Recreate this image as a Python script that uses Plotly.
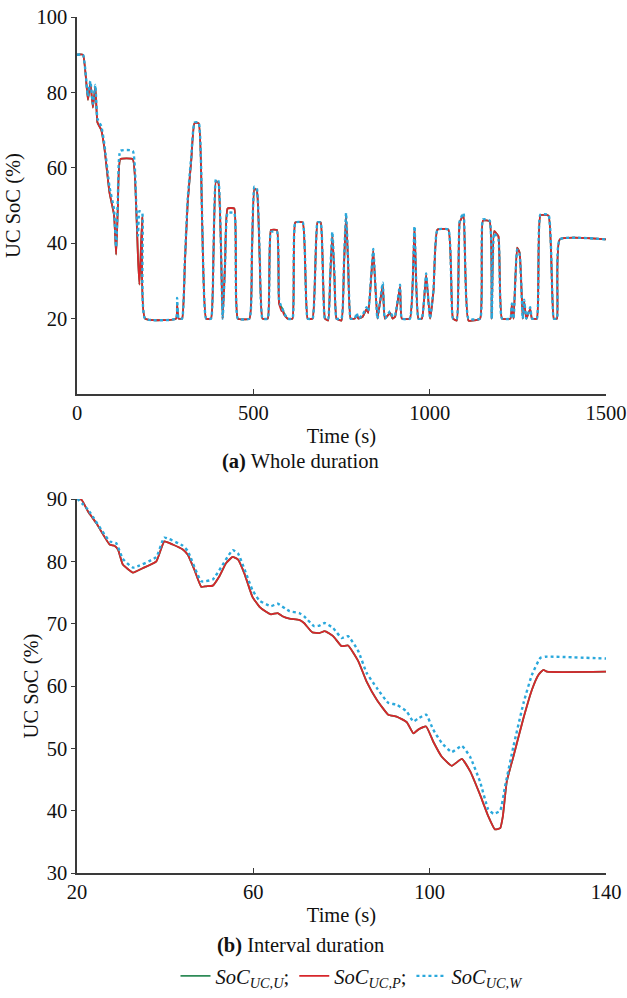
import plotly.graph_objects as go

# ---------- (a) whole duration ----------
t_whole = [0, 17, 31, 38, 45, 52, 58, 69, 78, 92, 105, 111, 116, 123, 158, 168, 173, 177, 185, 193,
           281, 284, 288, 298, 306, 314, 324, 333, 345, 355, 366, 380, 387, 394, 401, 413, 420, 427, 446, 456,
           489, 496, 503, 510, 518, 526, 541, 550, 567, 573, 580, 583, 587, 597, 611, 619, 640, 654, 668,
           682, 691, 703, 712, 718, 724, 730, 736, 750, 757, 763, 769, 776, 788, 793, 798, 810, 821, 826, 840,
           852, 867, 873, 888, 895, 902, 916, 921, 944, 957, 968, 978, 990, 1001, 1011, 1022,
           1053, 1066, 1077, 1085, 1096, 1110, 1143, 1151, 1170, 1176, 1183, 1195, 1205, 1229,
           1233, 1238, 1248, 1255, 1264, 1268, 1274, 1285, 1290, 1304, 1314, 1337, 1352, 1361,
           1369, 1500]
soc_w_whole = [90, 90, 79, 83, 77, 82, 73, 71, 66, 55, 49, 39, 52, 64.5, 64.5, 50, 42, 48.5, 48, 20,
               20, 25.5, 20, 20, 36, 52, 63, 72, 72, 46, 20, 20, 38, 57, 56.5, 20, 35, 48, 48, 20,
               20, 38, 55, 54.5, 37, 20, 20, 43, 43, 25, 23, 22.5, 21.5, 20, 20, 45.5, 45.5, 20, 20,
               45.5, 45.5, 20, 20, 32, 43, 32, 20, 20, 35, 48, 35, 20, 20, 21.5, 20, 21, 23, 22, 38.5,
               20, 29.5, 20, 22, 20.5, 21, 29, 20, 20, 44.5, 20, 20, 32, 20, 28, 43.6,
               43.6, 20, 20, 45.8, 48, 20, 20, 46.3, 46, 20, 42.7, 41, 20, 20,
               24, 20, 38.3, 37, 20, 25, 20, 23, 20, 20, 47.6, 47.5, 20, 20,
               41, 41]
soc_p_whole = [90, 90, 78, 82.5, 76, 81.5, 72, 70, 65, 53.5, 47.5, 37, 50, 62.3, 62.3, 49, 36, 29, 47, 20,
               20, 23.5, 20, 20, 35, 51, 62, 71.8, 71.8, 45, 20, 20, 37, 56.5, 56, 20, 35, 49.2, 49.2, 20,
               20, 37, 54.5, 54, 36, 20, 20, 43.5, 43.5, 24, 22, 22, 21, 20, 20, 45.5, 45.5, 20, 20,
               45.5, 45.5, 20, 19.5, 31, 42.5, 31, 20, 19.5, 34, 47.5, 34, 20, 20, 21, 20, 20.5, 22.5, 21.5, 38,
               20, 29, 20, 21.5, 20, 20.5, 28.5, 20, 20, 44, 20, 20, 31.5, 20, 27.5, 43.6,
               43.6, 20, 19.5, 45.5, 47.5, 19.5, 20, 46, 45.8, 20, 43.2, 41.8, 20, 20,
               23.5, 20, 38.8, 37.5, 20, 24.5, 20, 22.5, 20, 20, 47.4, 47.3, 20, 20,
               41, 41]
soc_u_whole = [90, 90, 78, 82.5, 76, 81.5, 72, 70, 65, 53.5, 47.5, 37, 50, 62.3, 62.3, 49, 36, 29, 47, 20,
               20, 23.5, 20, 20, 35, 51, 62, 71.8, 71.8, 45, 20, 20, 37, 56.5, 56, 20, 35, 49.2, 49.2, 20,
               20, 37, 54.5, 54, 36, 20, 20, 43.5, 43.5, 24, 23, 22.5, 21.5, 20, 20, 45.5, 45.5, 20, 20,
               45.5, 45.5, 20, 19.5, 31, 42.5, 31, 20, 19.5, 34, 47.5, 34, 20, 20, 21, 20, 20.5, 22.5, 21.5, 38,
               20, 29, 20, 21.5, 20, 20.5, 28.5, 20, 20, 44, 20, 20, 31.5, 20, 27.5, 43.6,
               43.6, 20, 19.5, 45.5, 47.5, 19.5, 20, 46, 45.8, 20, 43.2, 41.8, 20, 20,
               23.5, 20, 38.8, 37.5, 20, 24.5, 20, 22.5, 20, 20, 47.4, 47.3, 20, 20,
               41, 41]

# ---------- (b) interval duration ----------
t_int_p = [20, 21, 22.5, 24.4, 27.4, 28.5, 29.3, 30.4, 32.7, 34.9, 38, 39.8, 41.7, 44, 45.1, 46.6,
           48.2, 49.3, 50.8, 52.3, 53.8, 55.3, 56.5, 58, 59.8, 61.4, 62.9, 64, 65.5, 66.6, 68.2,
           70.4, 71.5, 73.4, 75, 76.2, 78.1, 80, 81.5, 83.8, 85.7, 88, 90.6, 92.5, 94.8, 96.3,
           97.4, 99.2, 100.8, 102.7, 105, 107.3, 109.2, 111.4, 113.3, 114.8, 116, 116.6, 117.5,
           119, 121.3, 123.2, 124.7, 125.8, 126.6, 140]
soc_p_int = [90, 89.9, 88, 86.1, 82.7, 82.5, 81.9, 79.5, 78.2, 78.9, 80, 83.2, 82.7, 81.9, 81.1, 78.7,
             75.9, 76, 76.1, 77.6, 79.7, 80.7, 80.3, 78, 74.3, 72.7, 71.9, 71.5, 71.7, 71.2, 70.8,
             70.6, 70.1, 68.6, 68.5, 68.8, 68, 66.4, 66.5, 64, 60.7, 57.8, 55.4, 55.1, 54.2, 52.4,
             53, 53.5, 51.1, 48.7, 47.2, 48.3, 46.3, 42.6, 39.1, 37, 37.2, 39.1, 44.7,
             48.7, 54.9, 59.4, 61.8, 62.6, 62.3, 62.3]
soc_u_int = soc_p_int

t_int_w = [20, 22.5, 27.4, 28.9, 30.4, 32.7, 38, 39.8, 44, 45.1, 48.2, 50.8, 55.3, 56.5, 59.8, 61.4,
           64, 65.5, 68.2, 70.4, 71.5, 73.8, 75, 76.2, 78.1, 80, 81.5, 83.8, 85.7, 88, 90.6, 92.5,
           94.8, 96.3, 97.4, 99.2, 100.8, 102.7, 105, 107.3, 109.2, 111.4, 113.3, 114.5, 116,
           117.1, 119, 121.3, 123.2, 125.1, 126.2, 140]
soc_w_int = [90.1, 88.3, 83.2, 82.9, 80.4, 79, 80.7, 83.8, 82.5, 81.7, 76.8, 77.1, 81.8, 81.3, 75.4, 73.7,
             72.8, 73.2, 72, 71.7, 71.2, 69.6, 69.7, 70.1, 69.3, 67.7, 68, 65.6, 62.1, 59.7, 57.3, 57,
             55.9, 54.3, 54.8, 55.4, 53, 50.9, 49.4, 50.4, 48.6, 44.7, 40.2, 39.5, 40,
             43.9, 50.3, 57.3, 61.8, 64.5, 64.7, 64.4]

GREEN = "#2e8b57"
RED = "#d7262b"
BLUE = "#2aa8dc"
FONT = "Liberation Serif"
AX = "#3a3a3a"
FS = 20.5

fig = go.Figure()

def add_set(xa, ya, xu, yu, xp, yp, xw, yw, show):
    fig.add_trace(go.Scatter(x=xu, y=yu, mode="lines", line=dict(color=GREEN, width=1.8, shape="spline", smoothing=0.4),
                             name="<i>SoC</i><sub><i>UC,U</i></sub>;", showlegend=show,
                             xaxis=xa, yaxis=ya, legendrank=1))
    fig.add_trace(go.Scatter(x=xp, y=yp, mode="lines", line=dict(color=RED, width=1.8, shape="spline", smoothing=0.4),
                             name="<i>SoC</i><sub><i>UC,P</i></sub>;", showlegend=show,
                             xaxis=xa, yaxis=ya, legendrank=2))
    fig.add_trace(go.Scatter(x=xw, y=yw, mode="lines", line=dict(color=BLUE, width=2.4, dash="dot", shape="spline", smoothing=0.4),
                             name="<i>SoC</i><sub><i>UC,W</i></sub>", showlegend=show,
                             xaxis=xa, yaxis=ya, legendrank=3))

add_set("x", "y", t_whole, soc_u_whole, t_whole, soc_p_whole, t_whole, soc_w_whole, False)
add_set("x2", "y2", t_int_p, soc_u_int, t_int_p, soc_p_int, t_int_w, soc_w_int, True)

W, H = 627, 998


def px(x):
    return x / W


def py(y):
    return 1 - y / H


xdom = [px(77), px(606)]

common_x = dict(showline=True, linecolor=AX, linewidth=1.5, ticks="inside", ticklen=5,
                tickcolor=AX, tickwidth=1.2, showgrid=False, zeroline=False,
                ticklabeloverflow="allow",
                tickfont=dict(family=FONT, size=FS, color="#111"),
                title_font=dict(family=FONT, size=FS, color="#111"), mirror=False)
common_y = dict(showline=True, linecolor=AX, linewidth=1.5, ticks="outside", ticklen=4,
                tickcolor=AX, tickwidth=1.2, showgrid=False, zeroline=False,
                ticklabeloverflow="allow",
                tickfont=dict(family=FONT, size=FS, color="#111"),
                title_font=dict(family=FONT, size=FS, color="#111"), mirror=False)

fig.update_layout(
    width=W, height=H, margin=dict(l=0, r=0, t=0, b=0, autoexpand=False),
    paper_bgcolor="white", plot_bgcolor="white",
    font=dict(family=FONT, size=FS, color="#111"),
    xaxis=dict(domain=xdom, anchor="y", range=[0, 1500], tickvals=[0, 500, 1000, 1500],
               title=dict(text="Time (s)", standoff=5), **common_x),
    yaxis=dict(domain=[py(394), py(17)], anchor="x", range=[0, 100],
               tickvals=[20, 40, 60, 80, 100],
               title=dict(text="UC SoC (%)", standoff=10), **common_y),
    xaxis2=dict(domain=xdom, anchor="y2", range=[20, 140], tickvals=[20, 60, 100, 140],
                title=dict(text="Time (s)", standoff=5), **common_x),
    yaxis2=dict(domain=[py(873), py(499)], anchor="x2", range=[30, 90],
                tickvals=[30, 40, 50, 60, 70, 80, 90],
                title=dict(text="UC SoC (%)", standoff=2), **common_y),
    legend=dict(orientation="h", x=px(352), xanchor="center", y=py(976), yanchor="middle",
                font=dict(family=FONT, size=FS, color="#111"), itemwidth=30,
                bgcolor="rgba(0,0,0,0)", tracegroupgap=0, traceorder="normal"),
    annotations=[
        dict(text="<b>(a)</b> Whole duration", xref="paper", yref="paper",
             x=px(300), y=py(461), xanchor="center", yanchor="middle",
             showarrow=False, font=dict(family=FONT, size=FS, color="#111")),
        dict(text="<b>(b)</b> Interval duration", xref="paper", yref="paper",
             x=px(300), y=py(945), xanchor="center", yanchor="middle",
             showarrow=False, font=dict(family=FONT, size=FS, color="#111")),
    ],
)

fig.write_html("out.html", config={"displayModeBar": False},
               post_script="document.body.style.margin='0';document.body.style.overflow='hidden';")
